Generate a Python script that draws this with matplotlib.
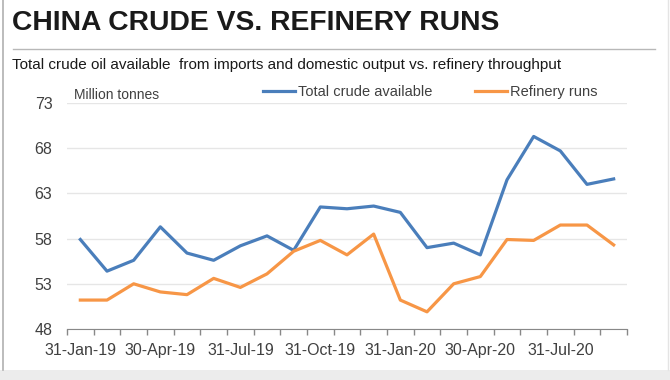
import matplotlib
matplotlib.use('Agg')
import matplotlib.pyplot as plt
from matplotlib.patches import Rectangle
from matplotlib.lines import Line2D

# data, monthly, Jan-19 .. Sep-20
months = ['31-Jan-19', '28-Feb-19', '31-Mar-19', '30-Apr-19', '31-May-19', '30-Jun-19',
          '31-Jul-19', '31-Aug-19', '30-Sep-19', '31-Oct-19', '30-Nov-19', '31-Dec-19',
          '31-Jan-20', '29-Feb-20', '31-Mar-20', '30-Apr-20', '31-May-20', '30-Jun-20',
          '31-Jul-20', '31-Aug-20', '30-Sep-20']
total_crude = [57.9, 54.4, 55.6, 59.3, 56.4, 55.6, 57.2, 58.3, 56.7, 61.5, 61.3,
               61.6, 60.9, 57.0, 57.5, 56.2, 64.5, 69.3, 67.7, 64.0, 64.6]
refinery_runs = [51.2, 51.2, 53.0, 52.1, 51.8, 53.6, 52.6, 54.1, 56.6, 57.8, 56.2,
                 58.5, 51.2, 49.9, 53.0, 53.8, 57.9, 57.8, 59.5, 59.5, 57.3]
y_ticks = [48, 53, 58, 63, 68, 73]

blue = '#4a7ebb'
orange = '#f79646'
txt = '#404040'

plt.rcParams['font.family'] = ['Liberation Sans', 'DejaVu Sans']

fig = plt.figure(figsize=(6.7, 3.8), dpi=100)

# frame bits
fig.add_artist(Rectangle((0, 0), 1, 10 / 380, transform=fig.transFigure,
                         color='#ececec', lw=0))
fig.add_artist(Line2D([3 / 670, 3 / 670], [10 / 380, 1], transform=fig.transFigure,
                      color='#b0b0b0', lw=1.2))
fig.add_artist(Line2D([668 / 670, 668 / 670], [10 / 380, 1], transform=fig.transFigure,
                      color='#e4e4e4', lw=1))
fig.add_artist(Line2D([13 / 670, 655 / 670], [1 - 49 / 380, 1 - 49 / 380],
                      transform=fig.transFigure, color='#b8b8b8', lw=1))

fig.text(12 / 670, 1 - 23 / 380, 'CHINA CRUDE VS. REFINERY RUNS', fontsize=20.3,
         fontweight='bold', color='#1a1a1a', va='center', ha='left')
fig.text(12 / 670, 1 - 65 / 380,
         'Total crude oil available  from imports and domestic output vs. refinery throughput',
         fontsize=11, color='#1a1a1a', va='center', ha='left')

ax = fig.add_axes([67 / 670, 1 - 329 / 380, 560 / 670, 226 / 380])
x = list(range(len(months)))
ax.plot(x, total_crude, color=blue, lw=2.3, label='Total crude available')
ax.plot(x, refinery_runs, color=orange, lw=2.3, label='Refinery runs')

ax.set_xlim(-0.5, len(months) - 0.5)
ax.set_ylim(48, 73)
ax.set_yticks(y_ticks)
ax.set_xticks(x[::3])
ax.set_xticklabels(months[::3])
ax.set_xticks([i - 0.5 for i in range(len(months) + 1)], minor=True)
ax.tick_params(axis='x', which='major', length=0, labelsize=11.5, labelcolor=txt, pad=10)
ax.tick_params(axis='x', which='minor', length=4, color='#888888', width=1)
ax.tick_params(axis='y', length=0, labelsize=11.5, labelcolor=txt, pad=10.5)
ax.grid(axis='y', color='#e6e6e6', lw=1)
ax.set_axisbelow(True)
for s in ['top', 'right', 'left']:
    ax.spines[s].set_visible(False)
ax.spines['bottom'].set_color('#888888')

ax.text(0.012, 1.035, 'Million tonnes', transform=ax.transAxes, fontsize=10,
        color=txt, va='center', ha='left')
ax.legend(loc='lower left', bbox_to_anchor=(0.34, 0.99), ncol=2, frameon=False,
          fontsize=10.5, handlelength=2.2, handletextpad=0.2, columnspacing=2.9,
          labelcolor=txt, borderaxespad=0)

fig.savefig('out.png', dpi=100, facecolor='white')
